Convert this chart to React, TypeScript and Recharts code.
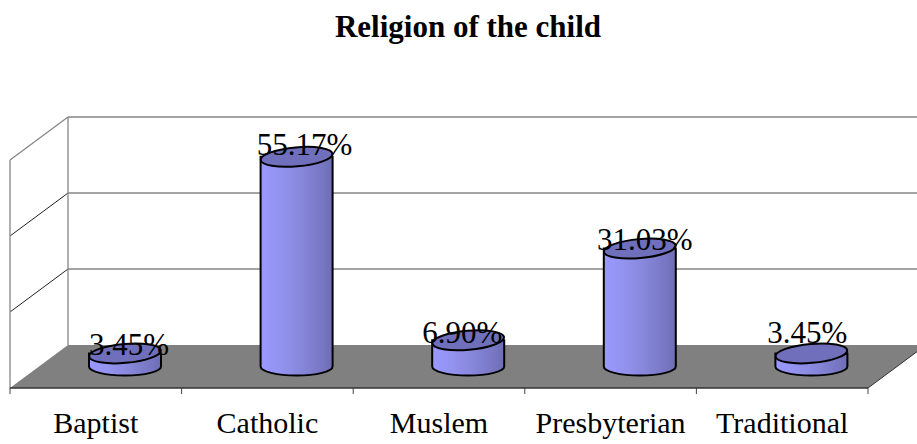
import { BarChart, Bar, XAxis, YAxis, LabelList, Customized } from 'recharts';

const categories = ['Baptist', 'Catholic', 'Muslem', 'Presbyterian', 'Traditional'];
const shares = [3.45, 55.17, 6.9, 31.03, 3.45];
const yTicks = [0, 20, 40, 60];

const chartData = categories.map((name, i) => ({ name, share: shares[i] }));

const WIDTH = 917;
const HEIGHT = 444;
const LEFT = 10;
const RIGHT = 868;
const TOP = 160;
const BOTTOM = 388;
// how far the back wall sits from the front plane
const DEPTH_X = 58;
const DEPTH_Y = 43;
const Y_MAX = 60;

const serif = '"Liberation Serif", "Times New Roman", serif';
const labelNudge = [
  { x: 4, y: 7 },
  { x: 8, y: 3 },
  { x: -6, y: 8 },
  { x: 5, y: 6 },
  { x: -4, y: -5 },
];

const yAt = (v: number) => BOTTOM - (v / Y_MAX) * (BOTTOM - TOP);

function Backdrop() {
  const step = (RIGHT - LEFT) / categories.length;
  return (
    <g>
      <polygon
        points={`${LEFT},${BOTTOM} ${RIGHT},${BOTTOM} ${RIGHT + DEPTH_X},${BOTTOM - DEPTH_Y} ${LEFT + DEPTH_X},${BOTTOM - DEPTH_Y}`}
        fill="#808080"
      />
      {yTicks.slice(1).map((t) => (
        <g key={t}>
          <line x1={LEFT + DEPTH_X} x2={WIDTH} y1={yAt(t) - DEPTH_Y} y2={yAt(t) - DEPTH_Y} stroke="#868686" strokeWidth={1.3} />
          <line
            x1={LEFT}
            x2={LEFT + DEPTH_X}
            y1={yAt(t)}
            y2={yAt(t) - DEPTH_Y}
            stroke={t === Y_MAX ? '#868686' : '#222'}
            strokeWidth={t === Y_MAX ? 1.3 : 1}
          />
        </g>
      ))}
      <line x1={LEFT} x2={LEFT} y1={TOP} y2={BOTTOM} stroke="#868686" strokeWidth={1.3} />
      <line x1={LEFT + DEPTH_X} x2={LEFT + DEPTH_X} y1={TOP - DEPTH_Y} y2={BOTTOM - DEPTH_Y} stroke="#868686" strokeWidth={1.3} />
      <line x1={RIGHT} x2={RIGHT + DEPTH_X} y1={BOTTOM} y2={BOTTOM - DEPTH_Y} stroke="#333" strokeWidth={1} />
      {categories.concat('').map((_, i) => (
        <line key={i} x1={LEFT + i * step} x2={LEFT + i * step} y1={BOTTOM} y2={BOTTOM + 6} stroke="#444" strokeWidth={1} />
      ))}
      <text x={468} y={37} textAnchor="middle" fontFamily={serif} fontSize={31} fontWeight="bold" fill="#000">
        Religion of the child
      </text>
    </g>
  );
}

function Cylinder({ x, y, width, height }: any) {
  const cx = x + width / 2 + DEPTH_X / 2;
  const rx = width / 2;
  const ry = 9;
  const top = y - DEPTH_Y / 2;
  const base = top + height;
  const left = cx - rx;
  const right = cx + rx;
  return (
    <g stroke="#000" strokeWidth={2}>
      <path
        d={`M${left},${top} L${left},${base} A${rx},${ry} 0 0 0 ${right},${base} L${right},${top} Z`}
        fill="url(#cylinderSide)"
      />
      <ellipse cx={cx} cy={top} rx={rx} ry={ry + 0.5} fill="#6f6fbb" transform={`rotate(-5 ${cx} ${top})`} />
    </g>
  );
}

function ShareLabel({ x, y, width, index, value }: any) {
  const nudge = labelNudge[index] ?? { x: 0, y: 0 };
  return (
    <text
      x={x + width / 2 + DEPTH_X / 2 + nudge.x}
      y={y - DEPTH_Y / 2 - 5 + nudge.y}
      textAnchor="middle"
      fontFamily={serif}
      fontSize={31}
      fill="#000"
    >
      {Number(value).toFixed(2)}%
    </text>
  );
}

export default function App() {
  return (
    <div style={{ position: 'fixed', left: 0, top: 0, width: WIDTH, height: HEIGHT, background: '#fff', overflow: 'hidden' }}>
      <BarChart
        width={WIDTH}
        height={HEIGHT}
        data={chartData}
        margin={{ top: TOP, right: WIDTH - RIGHT, bottom: 0, left: LEFT }}
      >
        <defs>
          <linearGradient id="cylinderSide" x1="0" y1="0" x2="1" y2="0">
            <stop offset="0%" stopColor="#9999ff" />
            <stop offset="30%" stopColor="#9292ee" />
            <stop offset="60%" stopColor="#8585d8" />
            <stop offset="100%" stopColor="#6e6eb6" />
          </linearGradient>
        </defs>
        <Customized component={Backdrop} />
        <XAxis
          dataKey="name"
          interval={0}
          axisLine={{ stroke: '#333', strokeWidth: 1.3 }}
          tickLine={false}
          tick={{ fontFamily: serif, fontSize: 30, fill: '#000' }}
          tickMargin={18}
          height={HEIGHT - BOTTOM}
        />
        <YAxis hide domain={[0, Y_MAX]} ticks={yTicks} />
        <Bar dataKey="share" barSize={72} shape={<Cylinder />} isAnimationActive={false}>
          <LabelList dataKey="share" content={<ShareLabel />} />
        </Bar>
      </BarChart>
    </div>
  );
}
